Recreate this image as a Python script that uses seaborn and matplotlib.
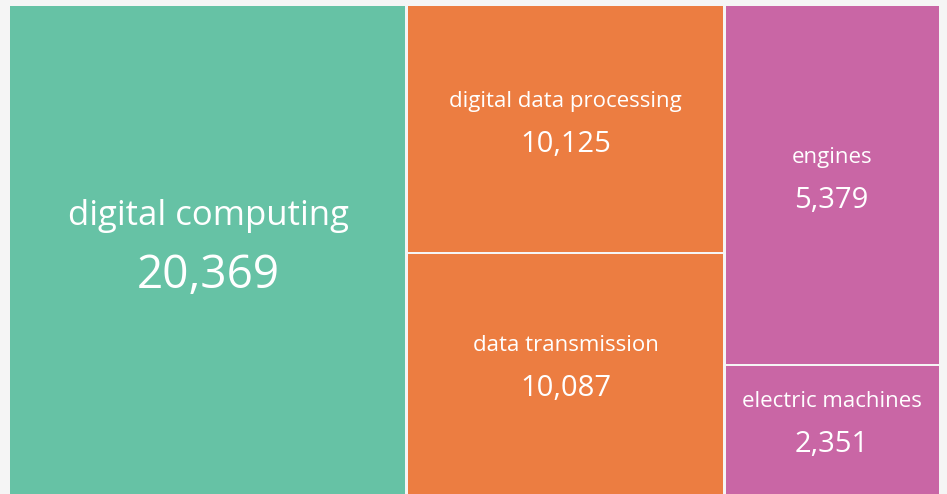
import matplotlib
matplotlib.use("Agg")
import matplotlib.pyplot as plt
import seaborn as sns

# ---- data ----
categories = ["digital computing", "digital data processing", "data transmission",
              "engines", "electric machines"]
values = [20369, 10125, 10087, 5379, 2351]
groups = ["A", "B", "B", "C", "C"]          # treemap columns
# relative tile areas (percent of the chart)
tile_area = [42.7, 17.3, 16.9, 17.0, 6.1]
group_colors = {"A": "#66c2a5", "B": "#ec7d41", "C": "#c966a5"}

sns.set_theme(style="white")
plt.rcParams["font.family"] = ["Open Sans", "DejaVu Sans"]

W, H = 947, 494
AX_W, AX_H = 929, 488
fig = plt.figure(figsize=(W / 100, H / 100), dpi=100)
fig.patch.set_facecolor("#f5f5f5")
ax = fig.add_axes([10 / W, 0 / H, AX_W / W, AX_H / H])
ax.set_facecolor("#f5f5f5")

# ---- slice-and-dice layout: columns by group, stacked tiles within ----
order = []
for g in groups:
    if g not in order:
        order.append(g)
total = sum(tile_area)
x0 = 0.0
rects = []
for g in order:
    idx = [i for i, gg in enumerate(groups) if gg == g]
    gsum = sum(tile_area[i] for i in idx)
    w = gsum / total
    y0 = 0.0
    for i in idx:
        h = tile_area[i] / gsum
        rects.append((i, x0, y0, w, h))
        y0 += h
    x0 += w

gx, gy = 1.4 / AX_W, 1.2 / AX_H   # half gap between tiles
eps = 1e-9
for i, x, y, w, h in rects:
    l = x + (gx if x > eps else 0)
    r = x + w - (gx if x + w < 1 - eps else 0)
    t = y + (gy if y > eps else 0)
    b = y + h - (gy if y + h < 1 - eps else 0)
    ax.bar(l, b - t, width=r - l, bottom=t, align="edge",
           color=group_colors[groups[i]], linewidth=0)
    big = i == 0
    cx, cy = x + w / 2, y + h / 2
    lab_fs, num_fs = (25, 33) if big else (16, 21)
    lab_off, num_off = (18, 27) if big else (16, 16)
    ax.annotate(categories[i], (cx, cy), xytext=(0, lab_off), textcoords="offset points",
                ha="center", va="baseline", color="white", fontsize=lab_fs)
    ax.annotate(f"{values[i]:,}", (cx, cy), xytext=(0, -num_off), textcoords="offset points",
                ha="center", va="baseline", color="white", fontsize=num_fs)

ax.set_xlim(0, 1)
ax.set_ylim(1, 0)
ax.axis("off")

fig.savefig("out.png", dpi=100, facecolor=fig.get_facecolor())
